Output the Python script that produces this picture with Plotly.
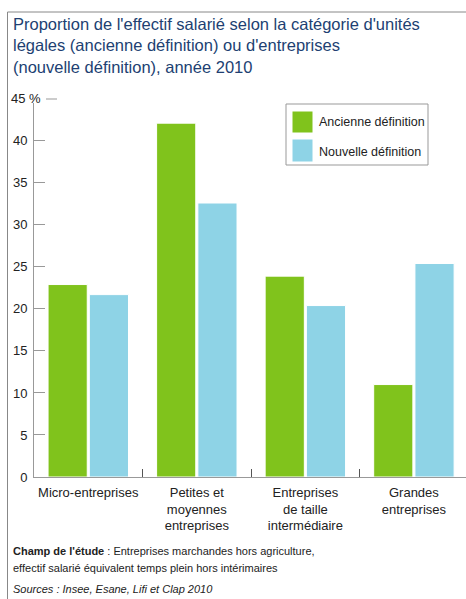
import plotly.graph_objects as go

categories = ["Micro-entreprises", "Petites et<br>moyennes<br>entreprises",
              "Entreprises<br>de taille<br>intermédiaire", "Grandes<br>entreprises"]
ancienne = [22.9, 42.1, 23.9, 11.0]
nouvelle = [21.7, 32.6, 20.4, 25.4]
series_names = ["Ancienne définition", "Nouvelle définition"]
tick_vals = [0, 5, 10, 15, 20, 25, 30, 35, 40]
top_label = "45 %"

GREEN = "#80C31C"
BLUE = "#8ED3E6"
GRAY = "#999999"
TXT = "#222222"

W, H = 466, 599
L, R, T, B = 34, 0, 103, 122
pw, ph = W - L - R, H - T - B

def px(x):
    return (x - L) / pw

def py(y):
    return (H - B - y) / ph

fig = go.Figure()
fig.add_bar(x=categories, y=ancienne, name=series_names[0],
            marker=dict(color=GREEN, line=dict(color="white", width=1)), showlegend=False)
fig.add_bar(x=categories, y=nouvelle, name=series_names[1],
            marker=dict(color=BLUE, line=dict(color="white", width=1)), showlegend=False)

font = "Liberation Sans, Arial, sans-serif"

fig.update_layout(
    width=W, height=H,
    margin=dict(l=L, r=R, t=T, b=B, pad=0),
    paper_bgcolor="white", plot_bgcolor="white",
    barmode="group", bargap=0.24, bargroupgap=0.05,
    font=dict(family=font, size=13, color=TXT),
    xaxis=dict(range=[-0.5, 3.48], showline=True, linecolor=GRAY, linewidth=1,
               ticks="inside", tickson="boundaries", ticklen=8, tickcolor="#555555",
               tickangle=0, ticklabelstandoff=3,
               tickfont=dict(size=13, color=TXT), showgrid=False, zeroline=False,
               fixedrange=True),
    yaxis=dict(range=[0, 44.5], tickvals=tick_vals, showline=True, linecolor=GRAY,
               linewidth=1, ticks="inside", ticklen=11, tickcolor=GRAY,
               tickfont=dict(size=13, color=TXT), showgrid=False, zeroline=False,
               ticklabelstandoff=3),
)

# title
fig.add_annotation(xref="paper", yref="paper", x=px(11), y=py(13), xanchor="left", yanchor="top",
                   align="left", showarrow=False,
                   text="Proportion de l'effectif salarié selon la catégorie d'unités<br>"
                        "légales (ancienne définition) ou d'entreprises<br>"
                        "(nouvelle définition), année 2010",
                   font=dict(family=font, size=16.5, color="#213F72"))

# 45 % label
fig.add_annotation(xref="paper", yref="paper", x=px(43), y=py(99), xanchor="right", yanchor="middle",
                   showarrow=False, text=top_label, font=dict(family=font, size=13, color=TXT))
fig.add_shape(type="line", xref="paper", yref="paper", x0=px(46), x1=px(57), y0=py(99), y1=py(99),
              line=dict(color=GRAY, width=1))

# legend box (manual)
fig.add_shape(type="rect", xref="paper", yref="paper", x0=px(286), x1=px(428), y0=py(104), y1=py(165),
              line=dict(color=GRAY, width=1), fillcolor="white")
fig.add_shape(type="rect", xref="paper", yref="paper", x0=px(292), x1=px(313), y0=py(111), y1=py(133),
              line=dict(color="white", width=1), fillcolor=GREEN)
fig.add_shape(type="rect", xref="paper", yref="paper", x0=px(292), x1=px(313), y0=py(139), y1=py(162),
              line=dict(color="white", width=1), fillcolor=BLUE)
fig.add_annotation(xref="paper", yref="paper", x=px(317), y=py(122), xanchor="left", yanchor="middle",
                   showarrow=False, text=series_names[0], font=dict(family=font, size=12.5, color=TXT))
fig.add_annotation(xref="paper", yref="paper", x=px(317), y=py(152), xanchor="left", yanchor="middle",
                   showarrow=False, text=series_names[1], font=dict(family=font, size=12.5, color=TXT))

# footer
fig.add_annotation(xref="paper", yref="paper", x=px(11), y=py(551), xanchor="left", yanchor="middle",
                   showarrow=False, align="left",
                   text="<b>Champ de l'étude</b> : Entreprises marchandes hors agriculture,",
                   font=dict(family=font, size=11, color=TXT))
fig.add_annotation(xref="paper", yref="paper", x=px(11), y=py(568), xanchor="left", yanchor="middle",
                   showarrow=False, align="left",
                   text="effectif salarié équivalent temps plein hors intérimaires",
                   font=dict(family=font, size=11, color=TXT))
fig.add_annotation(xref="paper", yref="paper", x=px(11), y=py(589), xanchor="left", yanchor="middle",
                   showarrow=False, align="left",
                   text="<i>Sources : Insee, Esane, Lifi et Clap 2010</i>",
                   font=dict(family=font, size=11, color=TXT))

# outer frame (left and top)
fig.add_shape(type="line", xref="paper", yref="paper", x0=px(7.5), x1=px(7.5), y0=py(12), y1=py(600),
              line=dict(color="#888888", width=1))
fig.add_shape(type="line", xref="paper", yref="paper", x0=px(7.5), x1=px(467), y0=py(12), y1=py(12),
              line=dict(color="#888888", width=1))

fig.write_html("out.html", config={"displayModeBar": False},
               post_script="document.body.style.margin='0px';document.body.style.overflow='hidden';")
